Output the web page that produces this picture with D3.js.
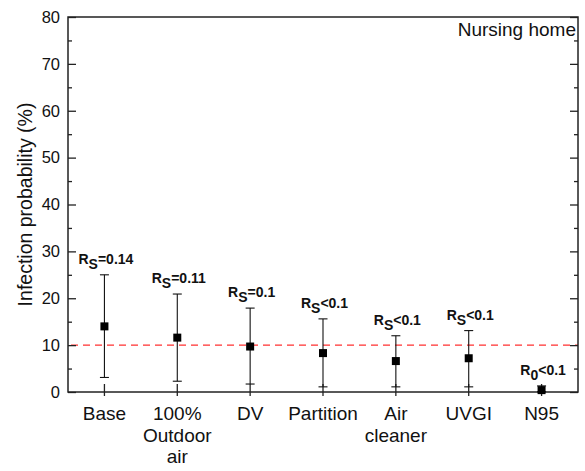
<!DOCTYPE html>
<html><head><meta charset="utf-8">
<script src="https://cdn.jsdelivr.net/npm/d3@7"></script>
<style>html,body{margin:0;padding:0;background:#fff;}svg{display:block;}</style>
</head><body>
<svg id="c" width="585" height="471"></svg>
<script>
const categories = ["Base", "100% Outdoor air", "DV", "Partition", "Air cleaner", "UVGI", "N95"];
const categoryLines = [["Base"], ["100%", "Outdoor", "air"], ["DV"], ["Partition"], ["Air", "cleaner"], ["UVGI"], ["N95"]];
const means = [14.0, 11.6, 9.7, 8.3, 6.6, 7.2, 0.4];
const lower = [3.1, 2.3, 1.7, 1.1, 1.1, 1.1, 0.05];
const upper = [25.0, 20.9, 17.9, 15.6, 12.0, 13.1, 1.3];
const rSub = ["S", "S", "S", "S", "S", "S", "0"];
const rText = ["=0.14", "=0.11", "=0.1", "<0.1", "<0.1", "<0.1", "<0.1"];
const yTicks = [0, 10, 20, 30, 40, 50, 60, 70, 80];
const yMinorTicks = [5, 15, 25, 35, 45, 55, 65, 75];
const threshold = 10;
const panelTitle = "Nursing home";
const yTitle = "Infection probability (%)";

const svg = d3.select("#c");
const L = 68, R = 578, T = 17, B = 392;
const x = d3.scalePoint().domain(categories).range([L, R]).padding(0.5);
const y = d3.scaleLinear().domain([0, 80]).range([B, T]);
const font = "Liberation Sans, Arial, sans-serif";
const axisColor = "#222";

// threshold line
svg.append("line")
  .attr("x1", L + 3).attr("x2", R).attr("y1", y(threshold)).attr("y2", y(threshold))
  .attr("stroke", "#ff3030").attr("stroke-width", 1.2).attr("stroke-dasharray", "7,5");

// left axis major
const gl = svg.append("g").attr("transform", `translate(${L},0)`)
  .call(d3.axisLeft(y).tickValues(yTicks).tickSize(-8).tickPadding(8));
gl.select(".domain").remove();
gl.selectAll("line").attr("stroke", axisColor).attr("stroke-width", 1.3);
gl.selectAll("text").attr("font-family", font).attr("font-size", 16.5).attr("fill", "#111");
const glm = svg.append("g").attr("transform", `translate(${L},0)`)
  .call(d3.axisLeft(y).tickValues(yMinorTicks).tickSize(-4).tickFormat(""));
glm.select(".domain").remove();
glm.selectAll("line").attr("stroke", axisColor).attr("stroke-width", 1.3);

// right axis (mirrored, no labels)
const gr = svg.append("g").attr("transform", `translate(${R},0)`)
  .call(d3.axisRight(y).tickValues(yTicks).tickSize(-8).tickFormat(""));
gr.select(".domain").remove();
gr.selectAll("line").attr("stroke", axisColor).attr("stroke-width", 1.3);
const grm = svg.append("g").attr("transform", `translate(${R},0)`)
  .call(d3.axisRight(y).tickValues(yMinorTicks).tickSize(-4).tickFormat(""));
grm.select(".domain").remove();
grm.selectAll("line").attr("stroke", axisColor).attr("stroke-width", 1.3);

// bottom ticks crossing axis
svg.append("g").selectAll("line").data(categories).join("line")
  .attr("x1", d => x(d)).attr("x2", d => x(d))
  .attr("y1", B - 8).attr("y2", B + 4)
  .attr("stroke", axisColor).attr("stroke-width", 1.3);

// category labels
const lab = svg.append("g").selectAll("text").data(categories).join("text")
  .attr("x", d => x(d)).attr("y", 420)
  .attr("text-anchor", "middle").attr("font-family", font).attr("font-size", 19).attr("fill", "#111");
lab.each(function(d, i) {
  const t = d3.select(this);
  categoryLines[i].forEach((ln, j) => {
    t.append("tspan").attr("x", x(d)).attr("dy", j === 0 ? 0 : 21.5).text(ln);
  });
});

// frame
svg.append("rect").attr("x", L).attr("y", T).attr("width", R - L).attr("height", B - T)
  .attr("fill", "none").attr("stroke", axisColor).attr("stroke-width", 1.5);

// error bars
const eb = svg.append("g").attr("stroke", "#111").attr("stroke-width", 1.1);
categories.forEach((c, i) => {
  const cx = x(c);
  eb.append("line").attr("x1", cx).attr("x2", cx).attr("y1", y(lower[i])).attr("y2", y(upper[i]));
  eb.append("line").attr("x1", cx - 4.5).attr("x2", cx + 4.5).attr("y1", y(upper[i])).attr("y2", y(upper[i]));
  eb.append("line").attr("x1", cx - 4.5).attr("x2", cx + 4.5).attr("y1", y(lower[i])).attr("y2", y(lower[i]));
});

// markers
svg.append("g").selectAll("rect").data(categories).join("rect")
  .attr("x", (d) => x(d) - 4).attr("y", (d, i) => y(means[i]) - 4)
  .attr("width", 8).attr("height", 8).attr("fill", "#000");

// R annotations
const ann = svg.append("g").selectAll("text").data(categories).join("text")
  .attr("x", d => x(d) + 1.5).attr("y", (d, i) => y(upper[i]) - 11)
  .attr("text-anchor", "middle").attr("font-family", font).attr("font-weight", "bold")
  .attr("font-size", 14).attr("fill", "#111");
ann.each(function(d, i) {
  const t = d3.select(this);
  t.append("tspan").text("R");
  t.append("tspan").attr("dy", 5).text(rSub[i]);
  t.append("tspan").attr("dy", -5).text(rText[i]);
});

// panel title
svg.append("text").attr("x", 576).attr("y", 36).attr("text-anchor", "end")
  .attr("font-family", font).attr("font-size", 19).attr("fill", "#111").text(panelTitle);

// y title
svg.append("text").attr("transform", `translate(32,${(T + B) / 2}) rotate(-90)`)
  .attr("text-anchor", "middle").attr("font-family", font).attr("font-size", 19.5).attr("fill", "#111")
  .text(yTitle);
</script>
</body></html>
